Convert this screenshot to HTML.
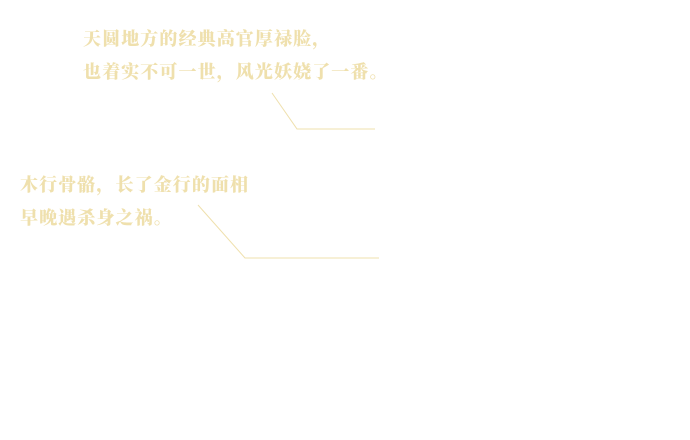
<!DOCTYPE html>
<html><head><meta charset="utf-8"><style>
html,body{margin:0;padding:0;background:#fff;width:690px;height:440px;overflow:hidden;position:relative}
.t{position:absolute;font-family:"Noto Serif CJK SC",serif;font-weight:900;font-size:18px;line-height:20px;color:#efe0ad;letter-spacing:1.1px;white-space:nowrap}
svg{position:absolute;left:0;top:0}
</style></head><body>
<div class="t" style="left:83px;top:28px">天圆地方的经典高官厚禄脸，</div>
<div class="t" style="left:83px;top:61px">也着实不可一世，风光妖娆了一番。</div>
<div class="t" style="left:20px;top:174px">木行骨骼，长了金行的面相</div>
<div class="t" style="left:20px;top:207px">早晚遇杀身之祸。</div>
<svg width="690" height="440">
<polyline points="272,93 297,129 375,129" fill="none" stroke="#efe0ad" stroke-width="1"/>
<polyline points="198,205 245,258 379,258" fill="none" stroke="#efe0ad" stroke-width="1"/>
</svg>
</body></html>
